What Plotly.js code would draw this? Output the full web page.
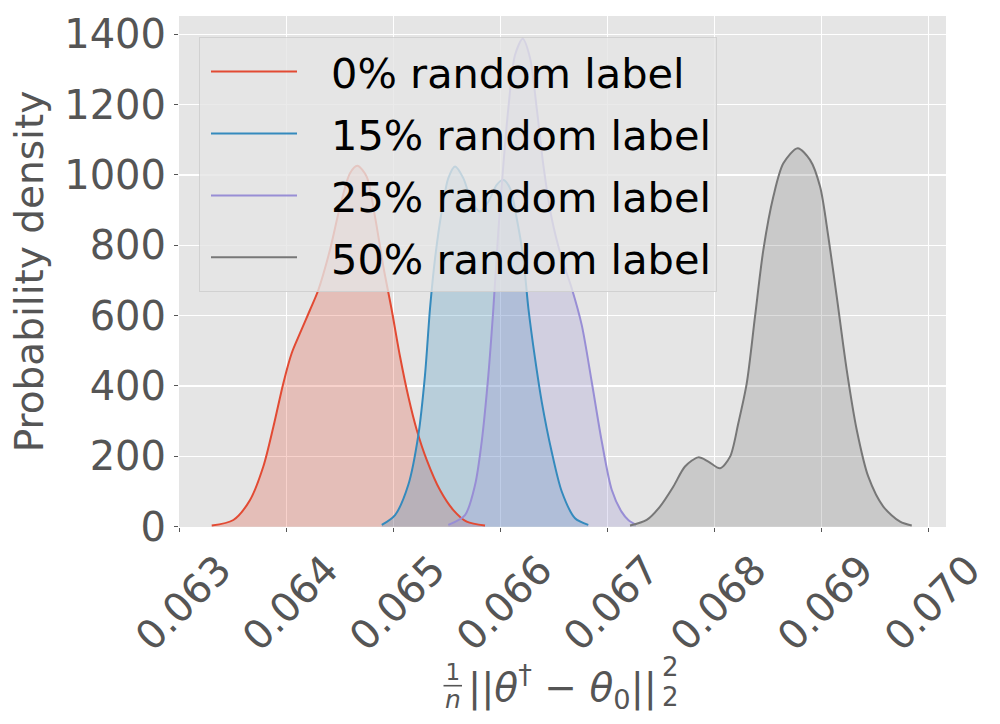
<!DOCTYPE html>
<html>
<head>
<meta charset="utf-8">
<script src="https://cdn.plot.ly/plotly-3.0.1.min.js"></script>
<style>html,body{margin:0;padding:0;background:#fff;}#chart{width:1000px;height:724px;}</style>
</head>
<body>
<div id="chart"></div>
<script>
// Series names
const seriesNames = ["0% random label", "15% random label", "25% random label", "50% random label"];
const seriesColors = ["#E24A33", "#348ABD", "#988ED5", "#777777"];
const fillColors = ["rgba(226,74,51,0.25)", "rgba(52,138,189,0.25)", "rgba(152,142,213,0.25)", "rgba(119,119,119,0.25)"];

// KDE curves (x value, probability density)
const x0 = [0.063303,0.063505,0.063661,0.063785,0.063879,0.063972,0.064050,0.064128,0.064221,0.064299,0.064408,0.064502,0.064595,0.064664,0.064751,0.064829,0.064907,0.064985,0.065063,0.065140,0.065219,0.065312,0.065436,0.065561,0.065686,0.065857];
const d0 = [3,19,76,171,284,408,493,550,616,673,787,910,1005,1026,995,881,739,616,483,370,275,190,104,47,14,3];

const x15 = [0.064892,0.065016,0.065140,0.065234,0.065296,0.065343,0.065390,0.065452,0.065514,0.065577,0.065654,0.065733,0.065810,0.065888,0.065966,0.066028,0.066091,0.066153,0.066215,0.066262,0.066324,0.066387,0.066480,0.066574,0.066698,0.066822];
const d15 = [5,33,119,261,431,621,763,896,991,1024,991,924,896,924,972,986,962,877,763,621,479,355,213,100,24,5];

const x25 = [0.065514,0.065670,0.065764,0.065826,0.065888,0.065935,0.065981,0.066028,0.066075,0.066137,0.066209,0.066278,0.066340,0.066402,0.066480,0.066574,0.066667,0.066761,0.066854,0.066948,0.067041,0.067134,0.067196,0.067268];
const d25 = [5,33,119,242,431,621,839,1028,1190,1341,1387,1332,1190,1028,877,763,678,573,412,242,105,42,19,5];

const x50 = [0.067212,0.067368,0.067492,0.067617,0.067726,0.067850,0.067944,0.068053,0.068147,0.068224,0.068303,0.068380,0.068458,0.068551,0.068645,0.068779,0.068894,0.068988,0.069065,0.069144,0.069237,0.069331,0.069439,0.069579,0.069736,0.069845];
const d50 = [3,19,57,114,171,197,185,166,199,294,408,597,787,938,1033,1076,1043,967,825,654,446,275,142,57,14,3];

// Axis ticks
const xTickVals = [0.063,0.064,0.065,0.066,0.067,0.068,0.069,0.070];
const xTickText = ["0.063","0.064","0.065","0.066","0.067","0.068","0.069","0.070"];
const yTickVals = [0,200,400,600,800,1000,1200,1400];
const yTickText = ["0","200","400","600","800","1000","1200","1400"];

const xs = [x0, x15, x25, x50];
const ds = [d0, d15, d25, d50];

const traces = [];
// fills first (below all lines)
for (let i = 0; i < 4; i++) {
  traces.push({
    x: xs[i], y: ds[i], type: "scatter", mode: "lines",
    line: {width: 0, shape: "spline", smoothing: 0.8, color: fillColors[i]},
    fill: "tozeroy", fillcolor: fillColors[i],
    showlegend: false, hoverinfo: "skip"
  });
}
for (let i = 0; i < 4; i++) {
  traces.push({
    x: xs[i], y: ds[i], type: "scatter", mode: "lines",
    name: "\u2002\u2009" + seriesNames[i],
    line: {width: 2, shape: "spline", smoothing: 0.8, color: seriesColors[i]},
    legendgroup: "g" + i
  });
}

const FONT = "DejaVu Sans, sans-serif";
const GREY = "#555555";
// helpers: pixel -> paper coordinates (plot area 179..946 x, 16..527 y)
const PL = 179, PW = 767, PB = 527, PH = 511;
const px = v => (v - PL) / PW;
const py = v => (PB - v) / PH;

const annotations = [
  // stacked fraction 1/n
  {text: "<span style='font-size:23px'>1</span><br><span style='font-size:25px'><i>n</i></span>",
   x: px(452.5), y: py(686), xref: "paper", yref: "paper", xanchor: "center", yanchor: "middle",
   showarrow: false, font: {family: FONT, size: 21.5, color: GREY}},
  // stacked super/subscript 2
  {text: "<span style='font-size:26px'>2</span><br><span style='font-size:26px'>2</span>",
   x: px(670), y: py(682), xref: "paper", yref: "paper", xanchor: "center", yanchor: "middle",
   showarrow: false, font: {family: FONT, size: 23, color: GREY}}
];
const shapes = [
  {type: "line", xref: "paper", yref: "paper", x0: px(443.5), x1: px(462), y0: py(685.7), y1: py(685.7),
   line: {color: GREY, width: 1.6}}
];

const layout = {
  width: 1000, height: 724,
  paper_bgcolor: "#ffffff",
  plot_bgcolor: "#E5E5E5",
  margin: {l: PL, r: 1000 - PL - PW, t: 16, b: 724 - PB, pad: 0},
  font: {family: FONT, color: GREY, size: 38},
  showlegend: true,
  legend: {
    x: px(199), y: py(37), xanchor: "left", yanchor: "top",
    bgcolor: "rgba(229,229,229,0.8)", bordercolor: "rgba(204,204,204,0.8)", borderwidth: 1,
    font: {family: FONT, size: 41.5, color: "#000000"},
    itemwidth: 86, indentation: 6, tracegroupgap: 5, traceorder: "grouped"
  },
  annotations: annotations,
  shapes: shapes,
  xaxis: {
    range: [0.062997, 0.070165],
    tickvals: xTickVals, ticktext: xTickText,
    tickangle: -45,
    ticks: "outside", ticklen: 4, tickcolor: GREY, tickwidth: 1,
    ticklabelshift: 40, ticklabelstandoff: -2,
    tickfont: {family: FONT, size: 40, color: GREY},
    showgrid: true, gridcolor: "#ffffff", gridwidth: 1.2,
    zeroline: false, showline: false,
    title: {text: "||<i>θ</i><sup>†</sup> − <i>θ</i><sub>0</sub>||",
            font: {family: FONT, size: 39, color: GREY}, standoff: 8}
  },
  yaxis: {
    range: [-1, 1452],
    tickvals: yTickVals, ticktext: yTickText,
    ticks: "outside", ticklen: 4, tickcolor: GREY, tickwidth: 1,
    ticklabelstandoff: 0,
    tickfont: {family: FONT, size: 40, color: GREY},
    showgrid: true, gridcolor: "#ffffff", gridwidth: 1.2,
    zeroline: false, showline: false,
    title: {text: "Probability density", font: {family: FONT, size: 39, color: GREY}, standoff: 8}
  }
};

Plotly.newPlot("chart", traces, layout, {displayModeBar: false, staticPlot: true});
</script>
</body>
</html>
